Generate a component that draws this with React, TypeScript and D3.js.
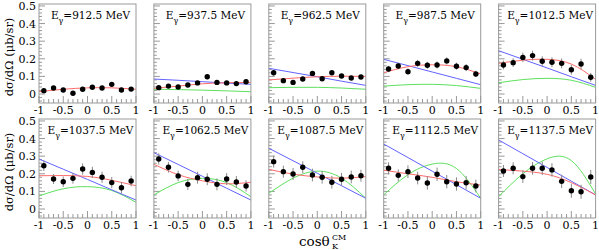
import React from "react";
import * as d3 from "d3";

// photon energies (MeV), one panel each
const energies = ["912.5", "937.5", "962.5", "987.5", "1012.5", "1037.5", "1062.5", "1087.5", "1112.5", "1137.5"];

// cos(theta_K) bin centres
const cosBins = [-0.9, -0.7, -0.5, -0.3, -0.1, 0.1, 0.3, 0.5, 0.7, 0.9];

// measured dsigma/dOmega (ub/sr)
const sigma = [
	[0.019, 0.034, 0.023, 0.004, 0.027, 0.038, 0.034, 0.055, 0.023, 0.028],
	[0.036, 0.045, 0.040, 0.051, 0.063, 0.098, 0.066, 0.063, 0.059, 0.070],
	[0.121, 0.076, 0.066, 0.085, 0.117, 0.087, 0.121, 0.102, 0.091, 0.097],
	[0.142, 0.159, 0.127, 0.174, 0.163, 0.165, 0.188, 0.158, 0.150, 0.114],
	[0.165, 0.178, 0.208, 0.218, 0.186, 0.180, 0.174, 0.138, 0.170, 0.095],
	[0.246, 0.170, 0.155, 0.174, 0.227, 0.208, 0.180, 0.150, 0.121, 0.159],
	[0.284, 0.237, 0.188, 0.140, 0.178, 0.169, 0.140, 0.170, 0.153, 0.131],
	[0.269, 0.212, 0.199, 0.237, 0.193, 0.180, 0.152, 0.169, 0.182, 0.189],
	[0.231, 0.191, 0.212, 0.176, 0.148, 0.197, 0.155, 0.142, 0.149, 0.131],
	[0.216, 0.231, 0.184, 0.231, 0.231, 0.222, 0.157, 0.104, 0.098, 0.182]
];

const sigmaErr = [
	[0.006, 0.006, 0.006, 0.007, 0.006, 0.006, 0.006, 0.007, 0.006, 0.006],
	[0.009, 0.009, 0.009, 0.009, 0.010, 0.014, 0.010, 0.010, 0.010, 0.010],
	[0.015, 0.012, 0.012, 0.012, 0.013, 0.012, 0.013, 0.012, 0.012, 0.012],
	[0.018, 0.018, 0.018, 0.020, 0.020, 0.020, 0.020, 0.020, 0.020, 0.018],
	[0.025, 0.025, 0.027, 0.028, 0.028, 0.028, 0.028, 0.028, 0.030, 0.025],
	[0.030, 0.028, 0.030, 0.030, 0.032, 0.032, 0.032, 0.032, 0.032, 0.030],
	[0.032, 0.030, 0.030, 0.032, 0.034, 0.034, 0.034, 0.034, 0.034, 0.032],
	[0.034, 0.034, 0.034, 0.034, 0.036, 0.036, 0.036, 0.036, 0.036, 0.034],
	[0.034, 0.034, 0.036, 0.036, 0.038, 0.038, 0.038, 0.038, 0.038, 0.036],
	[0.034, 0.034, 0.036, 0.036, 0.038, 0.038, 0.038, 0.040, 0.040, 0.040]
];

// curves sampled at these cos values
const curveX = [-1, -0.5, 0, 0.5, 1];

const fitRed = [
	[0.013, 0.027, 0.035, 0.035, 0.027],
	[0.032, 0.045, 0.058, 0.064, 0.066],
	[0.080, 0.090, 0.098, 0.101, 0.100],
	[0.121, 0.155, 0.166, 0.155, 0.114],
	[0.174, 0.192, 0.197, 0.170, 0.083],
	[0.189, 0.190, 0.185, 0.163, 0.132],
	[0.254, 0.195, 0.160, 0.143, 0.152],
	[0.225, 0.198, 0.182, 0.175, 0.184],
	[0.220, 0.200, 0.180, 0.155, 0.136],
	[0.225, 0.215, 0.197, 0.150, 0.080]
];

const modelBlue = [
	null,
	[0.085, 0.078, 0.070, 0.062, 0.055],
	[0.146, 0.122, 0.098, 0.073, 0.049],
	[0.197, 0.161, 0.125, 0.089, 0.053],
	[0.246, 0.197, 0.148, 0.098, 0.049],
	[0.284, 0.226, 0.168, 0.109, 0.051],
	[0.320, 0.253, 0.186, 0.118, 0.051],
	[0.345, 0.274, 0.203, 0.132, 0.061],
	[0.369, 0.292, 0.215, 0.138, 0.061],
	[0.392, 0.314, 0.236, 0.158, 0.080]
];

const modelGreen = [
	null,
	[0.027, 0.025, 0.022, 0.018, 0.013],
	[0.036, 0.038, 0.038, 0.034, 0.027],
	[0.045, 0.053, 0.055, 0.048, 0.032],
	[0.064, 0.082, 0.089, 0.078, 0.038],
	[0.074, 0.115, 0.127, 0.105, 0.038],
	[0.080, 0.150, 0.174, 0.150, 0.070],
	[0.089, 0.175, 0.215, 0.175, 0.061],
	[0.080, 0.195, 0.255, 0.230, 0.061],
	[0.070, 0.200, 0.285, 0.275, 0.085]
];

const xTicks = [-1, -0.5, 0, 0.5, 1];
const xTickLabels = ["-1", "-0.5", "0", "0.5", "1"];
const yTicks = [0, 0.1, 0.2, 0.3, 0.4, 0.5];
const yTickLabels = ["0", "0.1", "0.2", "0.3", "0.4", "0.5"];

const layout = {
	width: 599,
	height: 250,
	left: 39,
	colStep: 114.9,
	top: 4,
	rowStep: 115,
	panelW: 97,
	panelH: 99
};

const serif = {fontFamily: "'DejaVu Serif', 'Liberation Serif', 'Times New Roman', serif"};
const frameColor = "#999";

const Panel = ({idx}) => {
	const col = idx % 5;
	const row = Math.floor(idx / 5);
	const x0 = layout.left + col * layout.colStep;
	const y0 = layout.top + row * layout.rowStep;

	const xScale = d3.scaleLinear().domain([-1, 1]).range([x0, x0 + layout.panelW]);
	const yScale = d3.scaleLinear().domain([-0.051, 0.511]).range([y0 + layout.panelH, y0]);

	const line = d3.line()
		.x((d, i) => xScale(curveX[i]))
		.y(d => yScale(d))
		.curve(d3.curveNatural);

	const xMinor = d3.range(-10, 11).map(d => d / 10);
	const yMinor = d3.range(-2, 26).map(d => d / 50);
	const yb = y0 + layout.panelH;

	return (
		<g>
			{xMinor.map((t, i) => {
				const major = xTicks.some(m => Math.abs(m - t) < 1e-6);
				return <line key={"xt" + i} x1={xScale(t)} x2={xScale(t)} y1={yb} y2={yb - (major ? 7 : 4)}
							 stroke={frameColor} strokeWidth={1} />;
			})}
			{yMinor.map((t, i) => {
				const major = yTicks.some(m => Math.abs(m - t) < 1e-6);
				return <line key={"yt" + i} x1={x0} x2={x0 + (major ? 6 : 3)} y1={yScale(t)} y2={yScale(t)}
							 stroke={frameColor} strokeWidth={1} />;
			})}

			{modelGreen[idx] && <path d={line(modelGreen[idx])} fill="none" stroke="#5ee05e" strokeWidth={1} />}
			{modelBlue[idx] && <path d={line(modelBlue[idx])} fill="none" stroke="#6262ff" strokeWidth={1} />}
			<path d={line(fitRed[idx])} fill="none" stroke="#ff6b6b" strokeWidth={1} />

			{cosBins.map((c, i) => (
				<line key={"e" + i} x1={xScale(c)} x2={xScale(c)}
					  y1={yScale(sigma[idx][i] - sigmaErr[idx][i])} y2={yScale(sigma[idx][i] + sigmaErr[idx][i])}
					  stroke="#888" strokeWidth={1} />
			))}
			{cosBins.map((c, i) => (
				<circle key={"p" + i} cx={xScale(c)} cy={yScale(sigma[idx][i])} r={2.7} fill="black" />
			))}

			<rect x={x0} y={y0} width={layout.panelW} height={layout.panelH} fill="none" stroke={frameColor} strokeWidth={1} />

			{xTicks.map((t, i) => (
				<text key={"xl" + i} x={xScale(t)} y={yb + 11} textAnchor="middle" fontSize={11} style={serif}>
					{xTickLabels[i]}
				</text>
			))}
			{col === 0 && yTicks.map((t, i) => (
				<text key={"yl" + i} x={x0 - 3} y={Math.max(yScale(t) + 4, 10)} textAnchor="end" fontSize={11} style={serif}>
					{yTickLabels[i]}
				</text>
			))}

			<text x={x0 + layout.panelW / 2 + 3} y={y0 + 15} textAnchor="middle" fontSize={10.5} style={serif}>
				E<tspan fontSize={8} dy={3.5}>γ</tspan><tspan dy={-3.5}>={energies[idx]} MeV</tspan>
			</text>
		</g>
	);
};

export default function App() {
	return (
		<svg width={layout.width} height={layout.height}
			 style={{position: "absolute", left: 0, top: 0, background: "white"}}>
			{energies.map((e, i) => <Panel key={e} idx={i} />)}

			{[0, 1].map(r => (
				<text key={"yt" + r} transform={`translate(13, ${layout.top + r * layout.rowStep + 53}) rotate(-90)`}
					  textAnchor="middle" fontSize={11.5} style={serif}>
					dσ/dΩ (μb/sr)
				</text>
			))}

			<text x={299} y={246} fontSize={13.5} style={serif}>cosθ</text>
			<text x={332} y={240} fontSize={8} style={serif}>CM</text>
			<text x={332} y={249} fontSize={8} style={serif}>K</text>
		</svg>
	);
}
